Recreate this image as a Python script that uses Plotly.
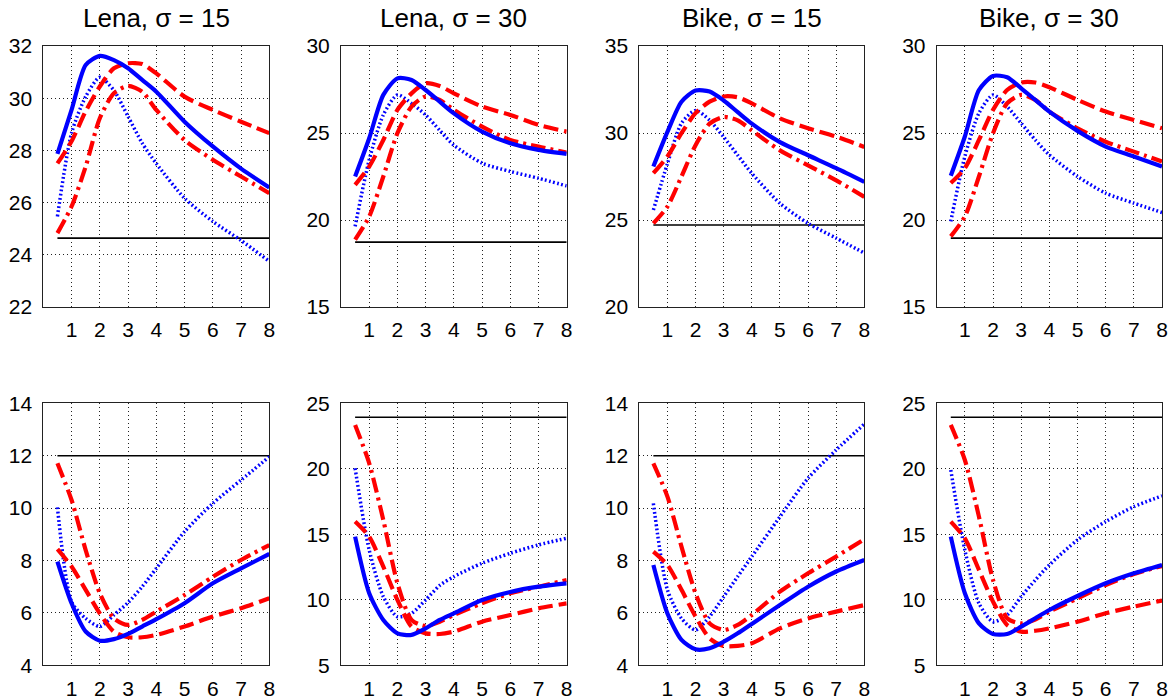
import plotly.graph_objects as go

X = [0.5, 1, 1.5, 2, 2.5, 3, 3.5, 4, 5, 6, 7, 8]

titles = ["Lena, \u03c3 = 15", "Lena, \u03c3 = 30", "Bike, \u03c3 = 15", "Bike, \u03c3 = 30"]

# ---- top row ----
lena15_top_solid = [27.87, 29.55, 31.27, 31.62, 31.46, 31.15, 30.7, 30.25, 29.1, 28.15, 27.3, 26.58]
lena15_top_dotted = [25.47, 28.66, 30.06, 30.8, 30.3, 29.3, 28.28, 27.5, 26.17, 25.28, 24.55, 23.75]
lena15_top_dashed = [27.5, 28.35, 29.5, 30.45, 31.15, 31.34, 31.31, 30.95, 30.06, 29.55, 29.1, 28.66]
lena15_top_dashdot = [24.83, 25.85, 27.38, 29.23, 30.19, 30.47, 30.25, 29.55, 28.4, 27.64, 27.0, 26.36]
lena15_top_base = 24.64

lena30_top_solid = [22.5, 24.7, 27.19, 28.14, 28.05, 27.47, 26.8, 26.13, 25.08, 24.41, 24.03, 23.8]
lena30_top_dotted = [19.63, 23.46, 26.04, 27.19, 26.7, 26.04, 25.15, 24.3, 23.27, 22.79, 22.4, 21.96]
lena30_top_dashed = [22.02, 23.07, 24.6, 26.33, 27.28, 27.86, 27.7, 27.28, 26.52, 26.04, 25.47, 25.08]
lena30_top_dashdot = [18.87, 20.2, 22.5, 24.99, 26.52, 27.1, 26.9, 26.33, 25.37, 24.6, 24.22, 23.88]
lena30_top_base = 18.73

bike15_top_solid = [28.07, 30.06, 31.8, 32.44, 32.38, 31.87, 31.2, 30.54, 29.48, 28.72, 27.98, 27.19]
bike15_top_dotted = [25.57, 28.24, 30.56, 31.3, 30.73, 29.77, 28.72, 27.68, 25.96, 24.81, 23.96, 23.1]
bike15_top_dashed = [27.69, 28.65, 29.99, 31.14, 31.8, 32.1, 32.05, 31.7, 30.84, 30.27, 29.79, 29.2]
bike15_top_dashdot = [24.81, 25.77, 27.5, 29.3, 30.54, 30.92, 30.73, 30.15, 29.0, 28.14, 27.28, 26.33]
bike15_top_base = 24.71

bike30_top_solid = [22.54, 24.8, 27.47, 28.28, 28.2, 27.57, 26.9, 26.23, 25.12, 24.22, 23.65, 23.07]
bike30_top_dotted = [19.92, 23.65, 26.14, 27.19, 26.52, 25.56, 24.6, 23.74, 22.5, 21.54, 20.97, 20.43]
bike30_top_dashed = [22.12, 22.98, 24.6, 26.33, 27.47, 27.9, 27.9, 27.63, 26.9, 26.23, 25.75, 25.27]
bike30_top_dashdot = [19.06, 20.2, 22.5, 24.99, 26.71, 27.19, 26.9, 26.23, 25.27, 24.5, 23.93, 23.36]
bike30_top_base = 18.96

# ---- bottom row ----
lena15_bot_solid = [7.96, 6.37, 5.29, 4.94, 5.0, 5.2, 5.48, 5.76, 6.37, 7.13, 7.7, 8.25]
lena15_bot_dotted = [10.03, 6.43, 5.79, 5.48, 5.92, 6.39, 7.0, 7.7, 9.1, 10.18, 11.07, 11.96]
lena15_bot_dashed = [8.43, 7.77, 6.88, 5.98, 5.28, 5.07, 5.07, 5.16, 5.48, 5.86, 6.18, 6.56]
lena15_bot_dashdot = [11.71, 10.31, 8.4, 6.75, 5.79, 5.54, 5.73, 6.05, 6.68, 7.38, 8.02, 8.59]
lena15_bot_base = 12.0

lena30_bot_solid = [14.82, 10.5, 8.46, 7.44, 7.32, 7.82, 8.46, 8.97, 9.99, 10.6, 11.0, 11.26]
lena30_bot_dotted = [20.04, 13.8, 10.24, 8.71, 8.97, 9.99, 11.1, 11.77, 12.79, 13.55, 14.19, 14.7]
lena30_bot_dashed = [15.97, 14.82, 12.53, 9.99, 7.95, 7.44, 7.39, 7.57, 8.33, 8.84, 9.35, 9.73]
lena30_bot_dashdot = [23.35, 20.42, 16.09, 11.26, 8.46, 8.0, 8.33, 8.84, 9.73, 10.5, 11.0, 11.51]
lena30_bot_base = 23.93

bike15_bot_solid = [7.83, 5.98, 4.97, 4.61, 4.65, 4.9, 5.22, 5.58, 6.3, 7.0, 7.58, 8.02]
bike15_bot_dotted = [10.18, 6.88, 5.79, 5.35, 5.86, 6.62, 7.39, 8.15, 9.67, 11.14, 12.22, 13.21]
bike15_bot_dashed = [8.34, 7.83, 6.88, 5.86, 5.03, 4.74, 4.74, 4.84, 5.41, 5.79, 6.05, 6.3]
bike15_bot_dashdot = [11.71, 10.44, 8.53, 6.75, 5.6, 5.35, 5.54, 5.92, 6.81, 7.51, 8.15, 8.81]
bike15_bot_base = 12.0

bike30_bot_solid = [14.82, 10.5, 8.2, 7.39, 7.39, 7.95, 8.59, 9.22, 10.29, 11.26, 12.02, 12.66]
bike30_bot_dotted = [19.91, 13.8, 9.73, 8.33, 8.84, 10.24, 11.51, 12.66, 14.57, 15.97, 17.11, 17.93]
bike30_bot_dashed = [15.97, 14.69, 12.28, 9.86, 8.08, 7.57, 7.64, 7.82, 8.33, 8.97, 9.48, 9.94]
bike30_bot_dashdot = [23.35, 20.67, 16.35, 11.51, 8.59, 8.2, 8.5, 9.09, 10.11, 11.13, 11.97, 12.58]
bike30_bot_base = 23.93

y_ranges = [[22, 32], [15, 30], [20, 35], [15, 30], [4, 14], [5, 25], [4, 14], [5, 25]]
y_dticks = [2, 5, 5, 5, 2, 5, 2, 5]
x_ticks = [1, 2, 3, 4, 5, 6, 7, 8]

panels = [
    (lena15_top_solid, lena15_top_dotted, lena15_top_dashed, lena15_top_dashdot, lena15_top_base),
    (lena30_top_solid, lena30_top_dotted, lena30_top_dashed, lena30_top_dashdot, lena30_top_base),
    (bike15_top_solid, bike15_top_dotted, bike15_top_dashed, bike15_top_dashdot, bike15_top_base),
    (bike30_top_solid, bike30_top_dotted, bike30_top_dashed, bike30_top_dashdot, bike30_top_base),
    (lena15_bot_solid, lena15_bot_dotted, lena15_bot_dashed, lena15_bot_dashdot, lena15_bot_base),
    (lena30_bot_solid, lena30_bot_dotted, lena30_bot_dashed, lena30_bot_dashdot, lena30_bot_base),
    (bike15_bot_solid, bike15_bot_dotted, bike15_bot_dashed, bike15_bot_dashdot, bike15_bot_base),
    (bike30_bot_solid, bike30_bot_dotted, bike30_bot_dashed, bike30_bot_dashdot, bike30_bot_base),
]

W, H = 1176, 700
col_px = [(43.3, 269.3), (341.0, 566.7), (639.3, 864.3), (936.7, 1162.0)]
row_px = [(46.0, 307.0), (403.3, 665.3)]

fig = go.Figure()
FONT = "Liberation Sans, Arial, Helvetica, sans-serif"

for i, (solid, dotted, dashed, dashdot, base) in enumerate(panels):
    r, c = divmod(i, 4)
    n = i + 1
    xa = "x" if n == 1 else f"x{n}"
    ya = "y" if n == 1 else f"y{n}"
    common = dict(xaxis=xa, yaxis=ya, mode="lines", showlegend=False, hoverinfo="skip")
    fig.add_trace(go.Scatter(x=[X[0], X[-1]], y=[base, base],
                             line=dict(color="black", width=1.6), **common))
    fig.add_trace(go.Scatter(x=X, y=dotted,
                             line=dict(color="#0000ff", width=3.5, dash="1.8px,2.4px", shape="spline", smoothing=0.7),
                             **common))
    fig.add_trace(go.Scatter(x=X, y=dashdot,
                             line=dict(color="#ff0000", width=4.2, dash="15px,5px,3px,5px", shape="spline", smoothing=0.7),
                             **common))
    fig.add_trace(go.Scatter(x=X, y=dashed,
                             line=dict(color="#ff0000", width=4.2, dash="15px,6px", shape="spline", smoothing=0.7),
                             **common))
    fig.add_trace(go.Scatter(x=X, y=solid,
                             line=dict(color="#0000ff", width=4.2, shape="spline", smoothing=0.7),
                             **common))

    x0, x1 = col_px[c]
    y0, y1 = row_px[r]
    axis_common = dict(showline=True, mirror=True, linecolor="#222222", linewidth=1,
                       showgrid=True, gridcolor="#222222", gridwidth=1, griddash="1px,3px",
                       zeroline=False, ticks="", tickfont=dict(family=FONT, size=21, color="black"),
                       fixedrange=True)
    fig.layout[("xaxis" if n == 1 else f"xaxis{n}")] = dict(
        domain=[x0 / W, x1 / W], range=[0, 8], tickmode="array", tickvals=x_ticks,
        anchor=ya, ticklabelstandoff=4, **axis_common)
    fig.layout[("yaxis" if n == 1 else f"yaxis{n}")] = dict(
        domain=[1 - y1 / H, 1 - y0 / H], range=y_ranges[i], dtick=y_dticks[i], tick0=0,
        anchor=xa, ticklabelstandoff=6, **axis_common)
    if r == 0:
        fig.add_annotation(text=titles[c], x=(x0 + x1) / 2 / W, y=1 - 18 / H,
                           xref="paper", yref="paper", showarrow=False,
                           xanchor="center", yanchor="middle",
                           font=dict(family=FONT, size=26, color="black"))

fig.update_layout(width=W, height=H, margin=dict(l=0, r=0, t=0, b=0, autoexpand=False),
                  paper_bgcolor="white", plot_bgcolor="white")

fig.write_html("out.html", config={"displayModeBar": False, "staticPlot": True},
               post_script="document.body.style.margin='0';document.body.style.overflow='hidden';")
